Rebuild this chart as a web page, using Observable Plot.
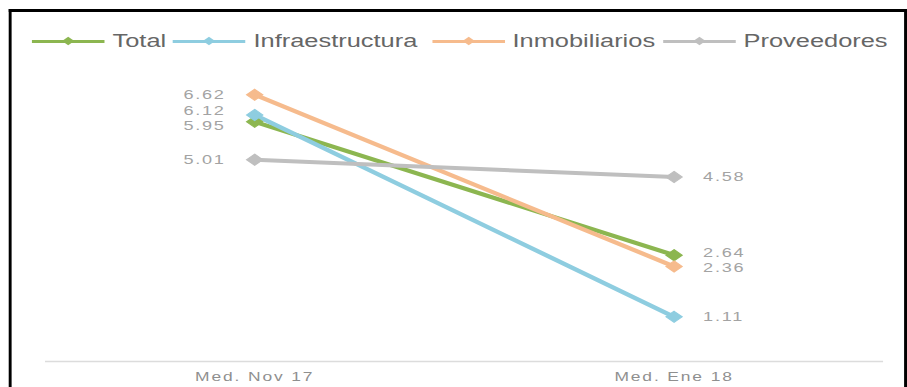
<!DOCTYPE html>
<html><head><meta charset="utf-8">
<script src="https://cdn.jsdelivr.net/npm/d3@7"></script>
<script src="https://cdn.jsdelivr.net/npm/@observablehq/plot@0.6"></script>
<style>
html,body{margin:0;padding:0;background:#fff;overflow:hidden;width:907px;height:387px}
#stage{position:absolute;left:0;top:0;width:625px;height:387px;transform:scaleX(1.4512);transform-origin:0 0;font-family:"Liberation Sans",Helvetica,Arial,sans-serif}
#frame{position:absolute;left:5.5px;top:9px;width:619.5px;height:420px;box-sizing:border-box;border:2px solid #000;border-top-width:3px;border-bottom:none}
#legend{position:absolute;top:30px;left:0;width:625px;height:22px;font-size:17.5px;color:#666;white-space:nowrap}
.item{position:absolute;top:0;height:22px;display:flex;align-items:center}
.sw{position:relative;width:50px;height:3px;margin-right:5.5px}
.sw i{position:absolute;left:22px;top:-1.5px;width:6px;height:6px;transform:rotate(45deg)}
#chart{position:absolute;left:0;top:60px}
#chart [aria-label^="x-axis"] text{letter-spacing:1.3px}
#chart .vlab text{letter-spacing:1.2px}
</style>
</head><body>
<div id="stage">
  <div id="frame"></div>
  <div id="legend"></div>
  <div id="chart"></div>
</div>
<script>
const periods = ["Med. Nov 17", "Med. Ene 18"];
const series = ["Total", "Infraestructura", "Inmobiliarios", "Proveedores"];
const nov17 = [5.95, 6.12, 6.62, 5.01];
const ene18 = [2.64, 1.11, 2.36, 4.58];
const colors = ["#8cb650", "#8ecde0", "#f6bb8d", "#bfbfbf"];

const rows = series.flatMap((s, i) => [
  {series: s, period: periods[0], value: nov17[i]},
  {series: s, period: periods[1], value: ene18[i]}
]);

// layout
const SX = 1.4512;
const W = 625, H = 327, mTop = 19, mBottom = 26;
const yMax = 7;
const pxPerUnit = (H - mTop - mBottom) / yMax;
const gap = 15 / pxPerUnit;
const legendLeft = [32, 173, 432, 663].map(v => v / SX);

function relax(vals) {
  const pos = vals.slice();
  for (let it = 0; it < 60; it++) {
    const idx = pos.map((_, i) => i).sort((a, b) => pos[b] - pos[a]);
    for (let k = 0; k < idx.length - 1; k++) {
      const a = idx[k], b = idx[k + 1];
      const d = pos[a] - pos[b];
      if (d < gap) { const s = (gap - d) / 2; pos[a] += s; pos[b] -= s; }
    }
  }
  return pos;
}
const leftY = relax(nov17), rightY = relax(ene18);
const leftLabels = series.map((s, i) => ({series: s, period: periods[0], value: nov17[i], ly: leftY[i]}));
const rightLabels = series.map((s, i) => ({series: s, period: periods[1], value: ene18[i], ly: rightY[i]}));

// legend
const legend = document.getElementById("legend");
series.forEach((s, i) => {
  const it = document.createElement("div");
  it.className = "item";
  it.style.left = legendLeft[i] + "px";
  it.innerHTML = `<span class="sw" style="background:${colors[i]}"><i style="background:${colors[i]}"></i></span><span>${s}</span>`;
  legend.appendChild(it);
});

const chart = Plot.plot({
  width: W, height: H,
  marginTop: mTop, marginBottom: mBottom, marginLeft: 31, marginRight: 16.5,
  style: {fontFamily: '"Liberation Sans", Helvetica, Arial, sans-serif', fontSize: "12px", color: "#8f8f8f", background: "transparent", overflow: "visible"},
  x: {type: "point", domain: periods, range: [175, 464.5], padding: 0, label: null, tickSize: 0, tickPadding: 11},
  y: {domain: [0, yMax], axis: null},
  color: {domain: series, range: colors},
  marks: [
    Plot.ruleY([0], {stroke: "#dcdcdc", strokeWidth: 1.5}),
    Plot.line(rows, {x: "period", y: "value", z: "series", stroke: "series", strokeWidth: 4}),
    Plot.dot(rows, {x: "period", y: "value", fill: "series", stroke: "series", symbol: "diamond2", r: 5, strokeWidth: 1}),
    Plot.text(leftLabels, {x: "period", y: "ly", text: d => d.value.toFixed(2), textAnchor: "end", dx: -20, fill: "#a3a3a3", fontSize: 12.5, className: "vlab"}),
    Plot.text(rightLabels, {x: "period", y: "ly", text: d => d.value.toFixed(2), textAnchor: "start", dx: 20, fill: "#a3a3a3", fontSize: 12.5, className: "vlab"})
  ]
});
document.getElementById("chart").appendChild(chart);
</script>
</body></html>
